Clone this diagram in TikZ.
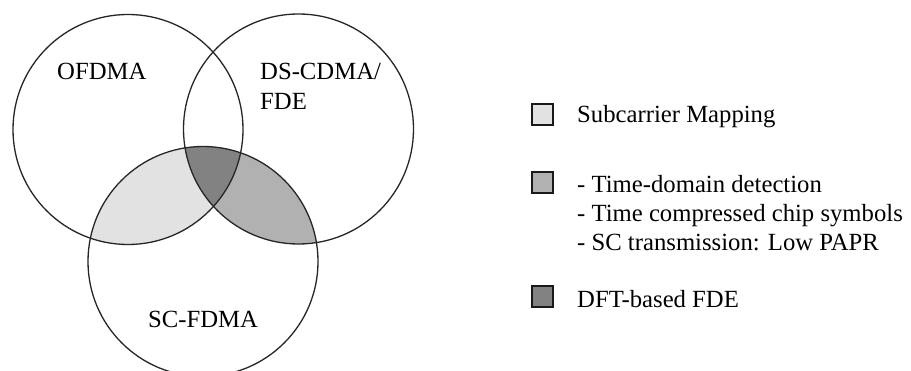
\documentclass[tikz,border=0pt]{standalone}
\usepackage{fontspec}
\setmainfont{Liberation Serif}
\definecolor{lightfill}{HTML}{E2E2E2}
\definecolor{midfill}{HTML}{B1B1B1}
\definecolor{darkfill}{HTML}{828282}
\begin{document}
\begin{tikzpicture}[x=1pt,y=-1pt,
  lbl/.style={anchor=base west, inner sep=0pt, font=\fontsize{24.7}{30}\selectfont},
  venn/.style={draw=black!85, line width=1.3pt},
  keybox/.style={draw=black!90, line width=2pt, minimum size=21pt, inner sep=0pt}]
\useasboundingbox (0,0) rectangle (911,371);
\clip (0,0) rectangle (911,371);
\fill[white] (0,0) rectangle (911,371);
% light: OFDMA & SC-FDMA
\begin{scope}
  \clip (128,129.5) circle [radius=115pt];
  \fill[lightfill] (203,261.5) circle [radius=115pt];
\end{scope}
% medium: DS-CDMA & SC-FDMA
\begin{scope}
  \clip (298.5,129) circle [radius=115pt];
  \fill[midfill] (203,261.5) circle [radius=115pt];
\end{scope}
% dark: all three
\begin{scope}
  \clip (128,129.5) circle [radius=115pt];
  \clip (298.5,129) circle [radius=115pt];
  \fill[darkfill] (203,261.5) circle [radius=115pt];
\end{scope}
\draw[venn] (128,129.5) circle [radius=115pt];
\draw[venn] (298.5,129) circle [radius=115pt];
\draw[venn] (203,261.5) circle [radius=115pt];
\node[lbl] (ofdma) at (57,80) {OFDMA};
\node[lbl] (ds1) at (260,80) {DS-CDMA/};
\node[lbl] (ds2) at (260,110) {FDE};
\node[lbl] (sc) at (148,328) {SC-FDMA};
% legend
\node[keybox, fill=lightfill] (k1) at (542.5,114.5) {};
\node[lbl] (t1) at (577,123) {Subcarrier Mapping};
\node[keybox, fill=midfill] (k2) at (542.5,182.5) {};
\node[lbl] (t2a) at (577,193) {- Time-domain detection};
\node[lbl] (t2b) at (577,222) {- Time compressed chip symbols};
\node[lbl] (t2c) at (577,251) {- SC transmission: Low PAPR};
\node[keybox, fill=darkfill] (k3) at (542.5,296.5) {};
\node[lbl] (t3) at (577,308) {DFT-based FDE};
\end{tikzpicture}
\end{document}
